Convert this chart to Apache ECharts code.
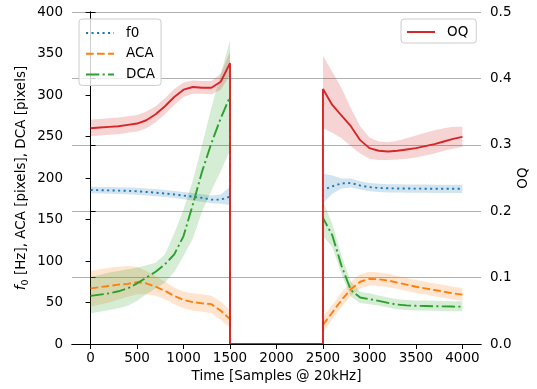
<!DOCTYPE html>
<html>
<head>
<meta charset="utf-8">
<script src="https://cdn.jsdelivr.net/npm/echarts@6/dist/echarts.min.js"></script>
<style>html,body{margin:0;padding:0;background:#fff}#c{width:537px;height:389px}</style>
</head>
<body>
<div id="c"></div>
<script>
// Time samples (duplicates at 1500 and 2500 mark the vertical drops)
const times = [0,100,200,300,400,500,600,700,800,900,1000,1100,1200,1300,1400,1500,1500,2500,2500,2600,2700,2800,2900,3000,3100,3200,3300,3400,3500,3600,3700,3800,3900,4000];
const xTicks = [0,500,1000,1500,2000,2500,3000,3500,4000];

const f0Mean = [185.5,185.3,185.1,184.8,184.5,184,183.2,182.3,181.3,180.2,178.8,177.5,176,174,174,177.5,0,0,185.5,190,193.5,194,191,189,188,187.6,187.4,187.3,187.2,187.1,187,187,187,187];
const f0Low  = [181.5,181.3,181,180.7,180.3,179.8,179,178,177,176,174.5,173,171.5,169.5,169,167.5,0,0,169.5,181,187.5,188.5,186,184,183,182.6,182.4,182.3,182.2,182.1,182,182,182,182];
const f0High = [189.5,189.3,189.1,188.8,188.5,188.2,187.4,186.6,185.6,184.4,183,182,180.5,179,180,189.5,0,0,205.5,203,199.5,199.5,196,194,193,192.6,192.4,192.3,192.2,192.1,192,192,192,192];

const acaMean = [67,68.5,70,71.5,72.5,74.5,73,69,64,58,53,50.5,49,48,40,30,0,0,23,38,53,66,75,78.5,78,76.5,74,71.5,69,67,65,63,61,59.5];
const acaLow  = [45,47.5,50,53.5,57,60,60,58,54,48,43,40,39,37,29,20,0,0,14,30,45,58,67,70.5,70,68.5,66.5,64,61.5,59.5,57.5,55.5,53.5,52];
const acaHigh = [88,90,92,93,94,93,88,82,75,68,63,61,60,58,51,41,0,0,33,47,62,75,84,87,86,84.5,82,79.5,77,75,73,71,69,67.5];

const dcaMean = [58,59.5,61,63.5,67,73,80,87,96,108,130,168,208,242,272,298,0,0,152,131,94,65,56,54,52,49.5,47.5,46.5,46,45.8,45.5,45.3,45.1,45];
const dcaLow  = [37,39,41,43,46,52,60,67,74,87,106,127,160,185,208,233,0,0,130,117,84,57,49.5,48,46.5,44,42,41,40.5,40.3,40,39.8,39.6,39.5];
const dcaHigh = [81,83,86,88,90,92,95,98,108,133,162,197,240,285,325,366,0,0,172,145,106,75,63,61,58.5,56,54,53,52.5,52.3,52,51.8,51.6,51.5];

const oqMean = [0.325,0.326,0.327,0.328,0.330,0.332,0.337,0.346,0.358,0.372,0.383,0.387,0.386,0.386,0.395,0.423,0,0,0.384,0.36,0.344,0.328,0.307,0.295,0.291,0.290,0.291,0.293,0.295,0.298,0.301,0.305,0.309,0.312];
const oqLow  = [0.313,0.314,0.315,0.316,0.318,0.320,0.325,0.334,0.346,0.360,0.372,0.377,0.377,0.376,0.383,0.405,0,0,0.325,0.318,0.31,0.298,0.287,0.279,0.277,0.277,0.278,0.279,0.281,0.284,0.287,0.291,0.294,0.297];
const oqHigh = [0.338,0.339,0.340,0.341,0.343,0.345,0.350,0.358,0.370,0.384,0.394,0.397,0.396,0.396,0.407,0.440,0,0,0.434,0.41,0.385,0.355,0.328,0.311,0.305,0.304,0.306,0.31,0.314,0.318,0.322,0.325,0.327,0.327];

const FONT = 'DejaVu Sans';
const FS = 13.5;
const C = {blue:'#1f77b4', orange:'#ff7f0e', green:'#2ca02c', red:'#d62728'};
const LW = 1.9;

function pairs(arr){ return times.map((t,i)=>[t, arr[i]]); }

function band(low, high, color, yIdx){
  return {
    type:'custom', yAxisIndex:yIdx, silent:true, z:1,
    data: times.map((t,i)=>[t, low[i], high[i]]),
    encode:{x:0, y:[1,2]},
    renderItem:function(params, api){
      if (params.dataIndex !== 0) return null;
      const pts = [];
      for (let i=0;i<times.length;i++) pts.push(api.coord([times[i], high[i]]));
      for (let i=times.length-1;i>=0;i--) pts.push(api.coord([times[i], low[i]]));
      return {type:'polygon', shape:{points:pts}, style:{fill:color, opacity:0.2}};
    }
  };
}
function line(name, arr, color, dash, yIdx, z){
  return {type:'line', name:name, yAxisIndex:yIdx, data:pairs(arr), symbol:'none',
    lineStyle:{color:color, width:LW, type:dash}, itemStyle:{color:color}, z:z};
}

const chart = echarts.init(document.getElementById('c'), null, {renderer:'canvas'});
const legendCommon = {
  orient:'vertical', top:19, itemWidth:28, itemHeight:14, itemGap:6.7,
  backgroundColor:'rgba(255,255,255,0.8)', borderColor:'#cccccc', borderWidth:1, borderRadius:3,
  itemStyle:{opacity:0, borderWidth:0},
  textStyle:{fontFamily:FONT, fontSize:FS, color:'#000', padding:[0,0,0,7]}
};
chart.setOption({
  animation:false,
  backgroundColor:'#fff',
  grid:{left:72, right:56, top:12, bottom:45, containLabel:false, outerBoundsMode:'none'},
  legend:[
    Object.assign({}, legendCommon, {data:['f0','ACA','DCA'], left:79, padding:[7,6,4,6]}),
    Object.assign({}, legendCommon, {data:['OQ'], left:401, padding:[6,8,4,5]})
  ],
  xAxis:[
    {type:'value', min:-200, max:4200, position:'bottom',
     name:'Time [Samples @ 20kHz]', nameLocation:'middle', nameGap:25, nameMoveOverlap:false,
     nameTextStyle:{fontFamily:FONT, fontSize:FS, color:'#000'},
     axisLine:{show:true, lineStyle:{color:'#000', width:1}},
     axisTick:{show:true, length:5, lineStyle:{color:'#000'}, customValues:xTicks},
     axisLabel:{fontFamily:FONT, fontSize:FS, color:'#000', margin:7, customValues:xTicks, formatter:v=>String(v)},
     splitLine:{show:false}},
    {type:'value', min:-200, max:4200, position:'top', z:5,
     axisLine:{show:true, lineStyle:{color:'#000', width:1}},
     axisTick:{show:false}, axisLabel:{show:false}, splitLine:{show:false}}
  ],
  yAxis:[
    {type:'value', min:0, max:400, interval:50, position:'left',
     name:'{it|f}{sub|0}{n| [Hz], ACA [pixels], DCA [pixels]}', nameLocation:'middle', nameRotate:90, nameGap:35,
     nameMoveOverlap:false,
     nameTextStyle:{fontFamily:FONT, fontSize:FS, color:'#000',
       rich:{
         it:{fontFamily:FONT, fontSize:FS, fontStyle:'italic', color:'#000', lineHeight:16, verticalAlign:'top'},
         n:{fontFamily:FONT, fontSize:FS, color:'#000', lineHeight:16, verticalAlign:'top'},
         sub:{fontFamily:FONT, fontSize:9.5, color:'#000', lineHeight:23, verticalAlign:'middle'}
       }},
     axisLine:{show:true, lineStyle:{color:'#000', width:1}},
     axisTick:{show:true, length:5, lineStyle:{color:'#000'}},
     axisLabel:{fontFamily:FONT, fontSize:FS, color:'#000', margin:9},
     splitLine:{show:false}},
    {type:'value', min:0, max:0.5, interval:0.1, position:'right',
     name:'OQ', nameLocation:'middle', nameRotate:90, nameGap:35, nameMoveOverlap:false,
     nameTextStyle:{fontFamily:FONT, fontSize:FS, color:'#000'},
     axisLine:{show:true, lineStyle:{color:'#000', width:1}},
     axisTick:{show:true, length:5, lineStyle:{color:'#000'}},
     axisLabel:{fontFamily:FONT, fontSize:FS, color:'#000', margin:9, formatter:v=>v.toFixed(1)},
     splitLine:{show:true, lineStyle:{color:'#b0b0b0', width:1.1}}}
  ],
  series:[
    band(f0Low, f0High, C.blue, 0),
    band(acaLow, acaHigh, C.orange, 0),
    band(dcaLow, dcaHigh, C.green, 0),
    line('f0', f0Mean, C.blue, [2.1,3.4], 0, 2),
    line('ACA', acaMean, C.orange, [7.7,3.3], 0, 2),
    line('DCA', dcaMean, C.green, [13.3,3.3,2.1,3.3], 0, 2),
    band(oqLow, oqHigh, C.red, 1),
    line('OQ', oqMean, C.red, 'solid', 1, 3)
  ]
});
</script>
</body>
</html>
